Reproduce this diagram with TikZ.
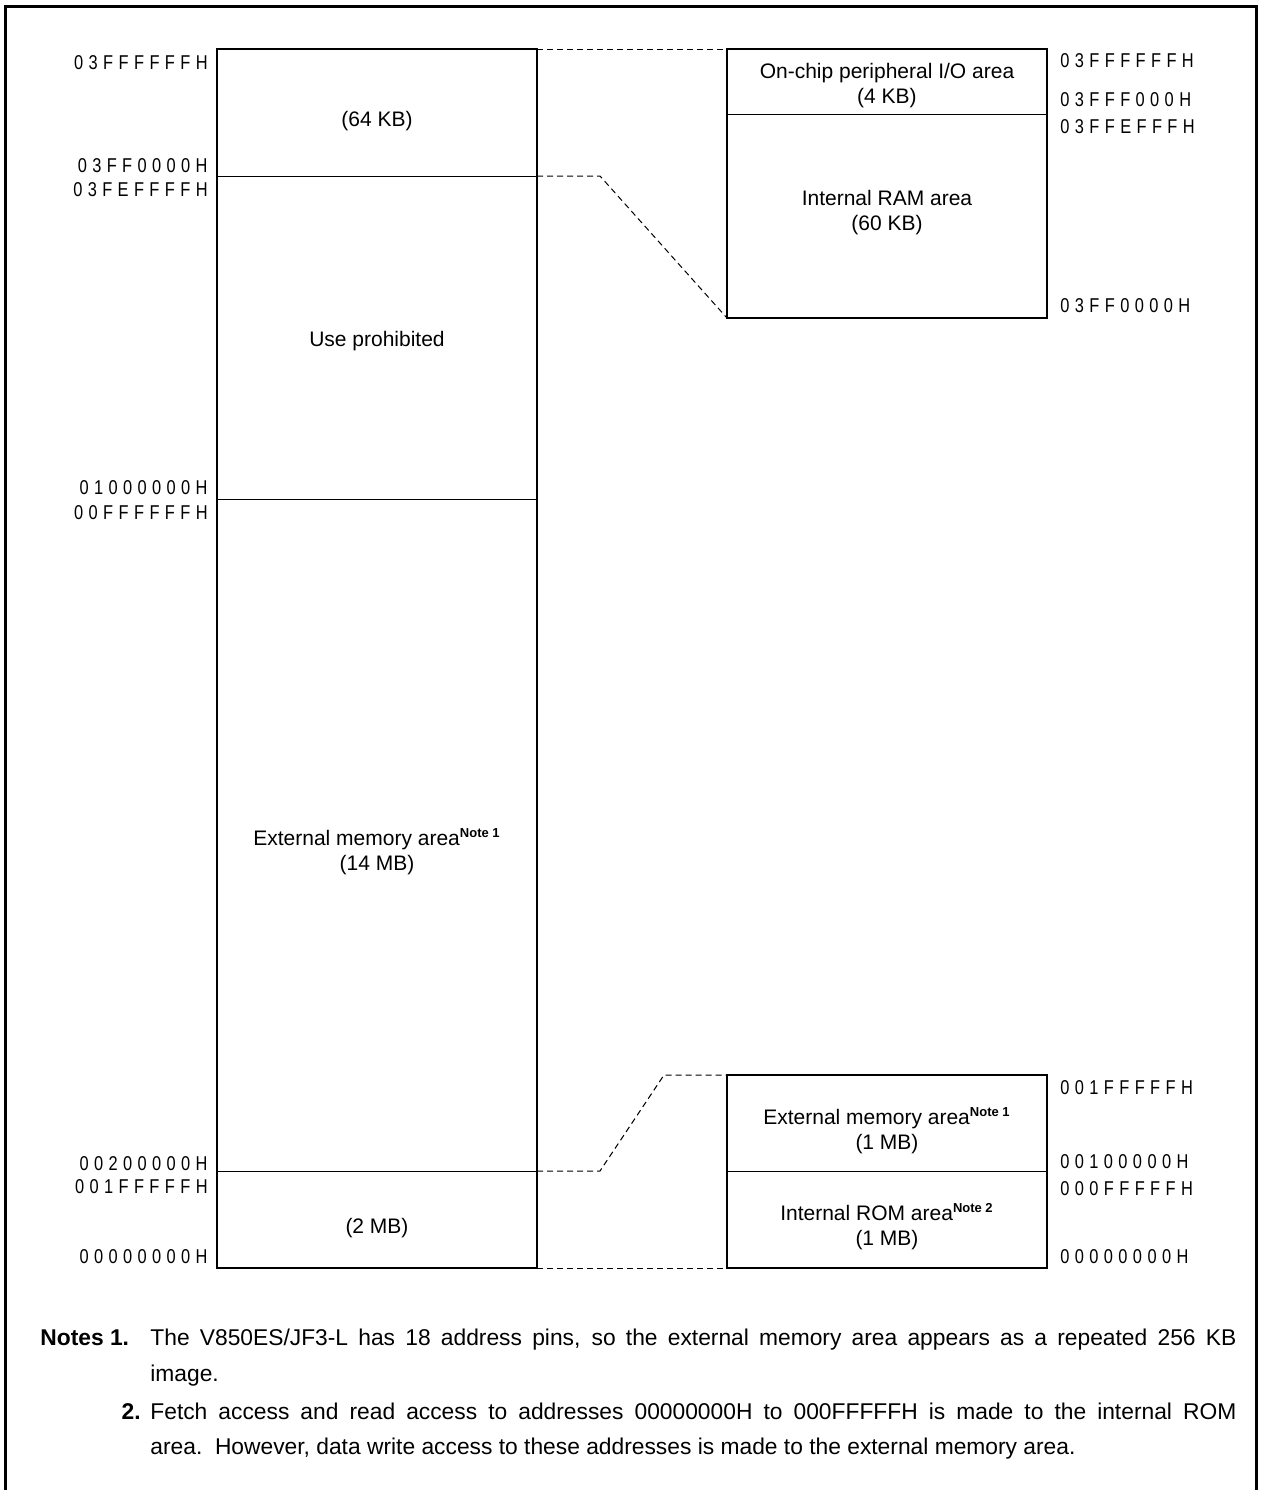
\documentclass[tikz,border=0pt]{standalone}
\usepackage{fontspec}
\setmainfont{Liberation Sans}
\newfontfamily\addrfont[FakeStretch=0.82, LetterSpace=27]{Liberation Sans}
\usetikzlibrary{positioning, calc}
\tikzset{
  area/.style = {rectangle, draw=black, line width=1pt, inner sep=0pt,
                 outer sep=0pt},
  sep/.style  = {line width=0.5pt},
  addr/.style = {font=\addrfont\fontsize{10}{11}\selectfont, inner sep=0pt},
  lbl/.style  = {align=center, font=\fontsize{10.5}{12.5}\selectfont,
                 inner sep=0pt},
  txt/.style  = {font=\fontsize{11.4}{13}\selectfont, inner sep=0pt},
  link/.style = {dash pattern=on 3pt off 2pt, line width=0.5pt},
}
\newcommand{\notemark}[1]{\textsuperscript{\fontsize{6.5}{7}\selectfont\bfseries Note~#1}}

\begin{document}
\begin{tikzpicture}[x=0.5pt, y=-0.5pt]
  \useasboundingbox (0,0) rectangle (1261,1490);
  \draw[line width=1.5pt] (5,1490) -- (5,6) -- (1256,6) -- (1256,1490);

  % whole address space
  \node[area, minimum width=160pt, minimum height=609.5pt] (main) at (377,658.5) {};
  \coordinate (m64) at (537,176);
  \coordinate (m2mb) at (537,1171);
  \draw[sep] (217,176) -- (m64);
  \draw[sep] (217,499) -- (537,499);
  \draw[sep] (217,1171) -- (m2mb);

  \node[lbl] (kb64) at (377,121) {(64 KB)};
  \node[lbl] (prohib) at (377,341) {Use prohibited};
  \node[lbl] (ext14) at (377,852) {External memory area\notemark{1}\\ (14 MB)};
  \node[lbl] (mb2) at (377,1228) {(2 MB)};

  \node[addr, anchor=east] (a1) at (208,63) {03FFFFFFH};
  \node[addr, anchor=east] (a2) at (208,166) {03FF0000H};
  \node[addr, anchor=east] (a3) at (208,190) {03FEFFFFH};
  \node[addr, anchor=east] (a4) at (208,488) {01000000H};
  \node[addr, anchor=east] (a5) at (208,513) {00FFFFFFH};
  \node[addr, anchor=east] (a6) at (208,1164) {00200000H};
  \node[addr, anchor=east] (a7) at (208,1187) {001FFFFFH};
  \node[addr, anchor=east] (a8) at (208,1257) {00000000H};

  % internal RAM / peripheral I/O
  \node[area, minimum width=160pt, minimum height=134.5pt] (ram) at (887,183.5) {};
  \draw[sep] (727,114) -- (1047,114);
  \node[lbl] (io) at (887,86) {On-chip peripheral I/O area\\ (4 KB)};
  \node[lbl] (iram) at (887,213) {Internal RAM area\\ (60 KB)};

  \node[addr, anchor=west] (b1) at (1060,61) {03FFFFFFH};
  \node[addr, anchor=west] (b2) at (1060,100) {03FFF000H};
  \node[addr, anchor=west] (b3) at (1060,127) {03FFEFFFH};
  \node[addr, anchor=west] (b4) at (1060,306) {03FF0000H};

  % external memory / internal ROM
  \node[area, minimum width=160pt, minimum height=96.5pt] (rom) at (887,1171.5) {};
  \draw[sep] (727,1171) -- (1047,1171);
  \node[lbl] (ext1) at (887,1131) {External memory area\notemark{1}\\ (1 MB)};
  \node[lbl] (irom) at (887,1226.5) {Internal ROM area\notemark{2}\\ (1 MB)};

  \node[addr, anchor=west] (c1) at (1060,1088) {001FFFFFH};
  \node[addr, anchor=west] (c2) at (1060,1162) {00100000H};
  \node[addr, anchor=west] (c3) at (1060,1189) {000FFFFFH};
  \node[addr, anchor=west] (c4) at (1060,1257) {00000000H};

  % dashed links
  \draw[link] (main.north east) -- (ram.north west);
  \draw[link] (m64) -- (600,176) -- (ram.south west);
  \draw[link] (m2mb) -- (600,1171) -- (664,1075) -- (rom.north west);
  \draw[link] (main.south east) -- (rom.south west);

  % notes
  \node[txt, anchor=base west, font=\fontsize{11.4}{13}\selectfont\bfseries] (notes) at (40,1345) {Notes 1.};
  \node[txt, anchor=base west] (n1a) at (150,1345)
    {\hbox to 543pt{The V850ES/JF3-L has 18 address pins, so the external memory area appears as a repeated 256 KB}};
  \node[txt, anchor=base west] (n1b) at (150,1381) {image.};
  \node[txt, anchor=base east, font=\fontsize{11.4}{13}\selectfont\bfseries] (two) at (141,1419) {2.};
  \node[txt, anchor=base west] (n2a) at (150,1419)
    {\hbox to 543pt{Fetch access and read access to addresses 00000000H to 000FFFFFH is made to the internal ROM}};
  \node[txt, anchor=base west] (n2b) at (150,1454) {area.\ \ However, data write access to these addresses is made to the external memory area.};
\end{tikzpicture}
\end{document}
